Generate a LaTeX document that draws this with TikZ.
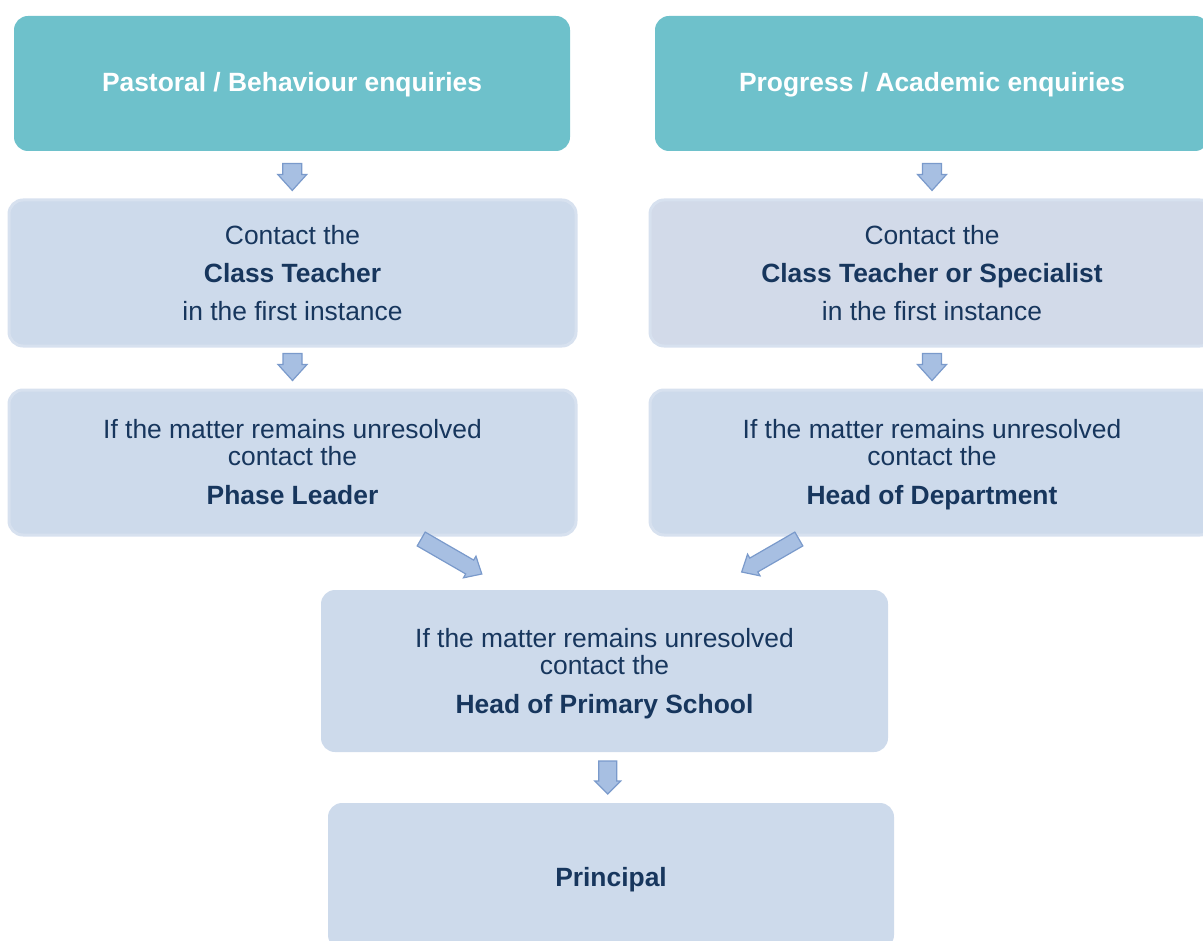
\documentclass[tikz,border=0pt]{standalone}
\usepackage{fontspec}
\setmainfont{Liberation Sans}
\usetikzlibrary{calc}
\definecolor{teal1}{HTML}{6EC1CB}
\definecolor{boxfill}{HTML}{CDDAEB}
\definecolor{boxedge}{HTML}{D7E1EF}
\definecolor{boxfillb}{HTML}{D2DAE9}
\definecolor{navy}{HTML}{17365D}
\definecolor{arrfill}{HTML}{A7BFE2}
\definecolor{arredge}{HTML}{7A9ACB}
\newcommand{\tstr}{\rule{0pt}{12pt}}
\newcommand{\hstr}{\rule{0pt}{10.6pt}}
\newcommand{\pstr}{\rule{0pt}{13.6pt}}
\newcommand{\bstr}{\rule[-2.8pt]{0pt}{2.8pt}}
\tikzset{
  every node/.style={font=\fontsize{13.2}{13.5}\selectfont, text=navy, align=center},
  headbox/.style={fill=teal1, rounded corners=7pt, inner sep=0pt, text=white, font=\fontsize{13.2}{13.5}\selectfont\bfseries},
  lightbox/.style={fill=boxfill, draw=boxedge, line width=1.5pt, rounded corners=7pt, inner sep=0pt},
  arrstyle/.style={fill=arrfill, draw=arredge, line width=0.6pt, line join=miter},
  pics/blockarrow/.style args={#1/#2/#3/#4}{code={
    \path[arrstyle] (-#2,-#1/2) -- (#2,-#1/2) -- (#2,#1/2-#4) -- (#3,#1/2-#4) -- (0,#1/2)
      -- (-#3,#1/2-#4) -- (-#2,#1/2-#4) -- cycle;
  }}
}
\begin{document}
\begin{tikzpicture}[x=0.5pt,y=-0.5pt]
\useasboundingbox (0,0) rectangle (1203,941);
\clip (0,0) rectangle (1203,941);
% top headers
\node[headbox, minimum width=278pt, minimum height=67.5pt] (tl) at (292,83.5) {\hstr Pastoral / Behaviour enquiries\bstr};
\node[headbox, minimum width=277pt, minimum height=67.5pt] (tr) at (932,83.5) {\hstr Progress / Academic enquiries\bstr};
% second row
\node[lightbox, minimum width=283.5pt, minimum height=73pt] (l2) at (292.5,273)
  {\tstr Contact the\\[5.5pt]\textbf{Class Teacher}\\[5.5pt]in the first instance\bstr};
\node[lightbox, fill=boxfillb, minimum width=282pt, minimum height=73pt] (r2) at (932,273)
  {\tstr Contact the\\[5.5pt]\textbf{Class Teacher or Specialist}\\[5.5pt]in the first instance\bstr};
% third row
\node[lightbox, minimum width=283.5pt, minimum height=72.5pt] (l3) at (292.5,462.5)
  {\tstr If the matter remains unresolved\\contact the\\[6pt]\textbf{Phase Leader}\bstr};
\node[lightbox, minimum width=282pt, minimum height=72.5pt] (r3) at (932,462.5)
  {\tstr If the matter remains unresolved\\contact the\\[6pt]\textbf{Head of Department}\bstr};
% head of primary
\node[lightbox, draw=none, minimum width=283.5pt, minimum height=81pt] (hp) at (604.5,671)
  {\tstr If the matter remains unresolved\\contact the\\[6pt]\textbf{Head of Primary School}\bstr};
% principal
\node[lightbox, draw=none, minimum width=283pt, minimum height=73pt] (pr) at (611,876)
  {\pstr\textbf{Principal}\bstr};
% arrows
\pic at ($(tl.south)!0.5!(l2.north)+(0,2)$) {blockarrow=27/9.5/14.5/16};
\pic at ($(tr.south)!0.5!(r2.north)+(0,2)$) {blockarrow=27/9.5/14.5/16};
\pic at ($(l2.south)!0.5!(l3.north)+(0,-1)$) {blockarrow=27/9.5/14.5/16};
\pic at ($(r2.south)!0.5!(r3.north)+(0,-1)$) {blockarrow=27/9.5/14.5/16};
\pic at ($(hp.south)!0.5!(pr.north)+(0,0)$) {blockarrow=33/9/13/13};
\pic[rotate=60] at ($(l3.south)!0.5!(hp.north)+(3,-6)$) {blockarrow=70/8/12.5/14};
\pic[rotate=-60] at ($(r3.south)!0.5!(hp.north)+(2,-7)$) {blockarrow=66/8/12.5/14};
\end{tikzpicture}
\end{document}
